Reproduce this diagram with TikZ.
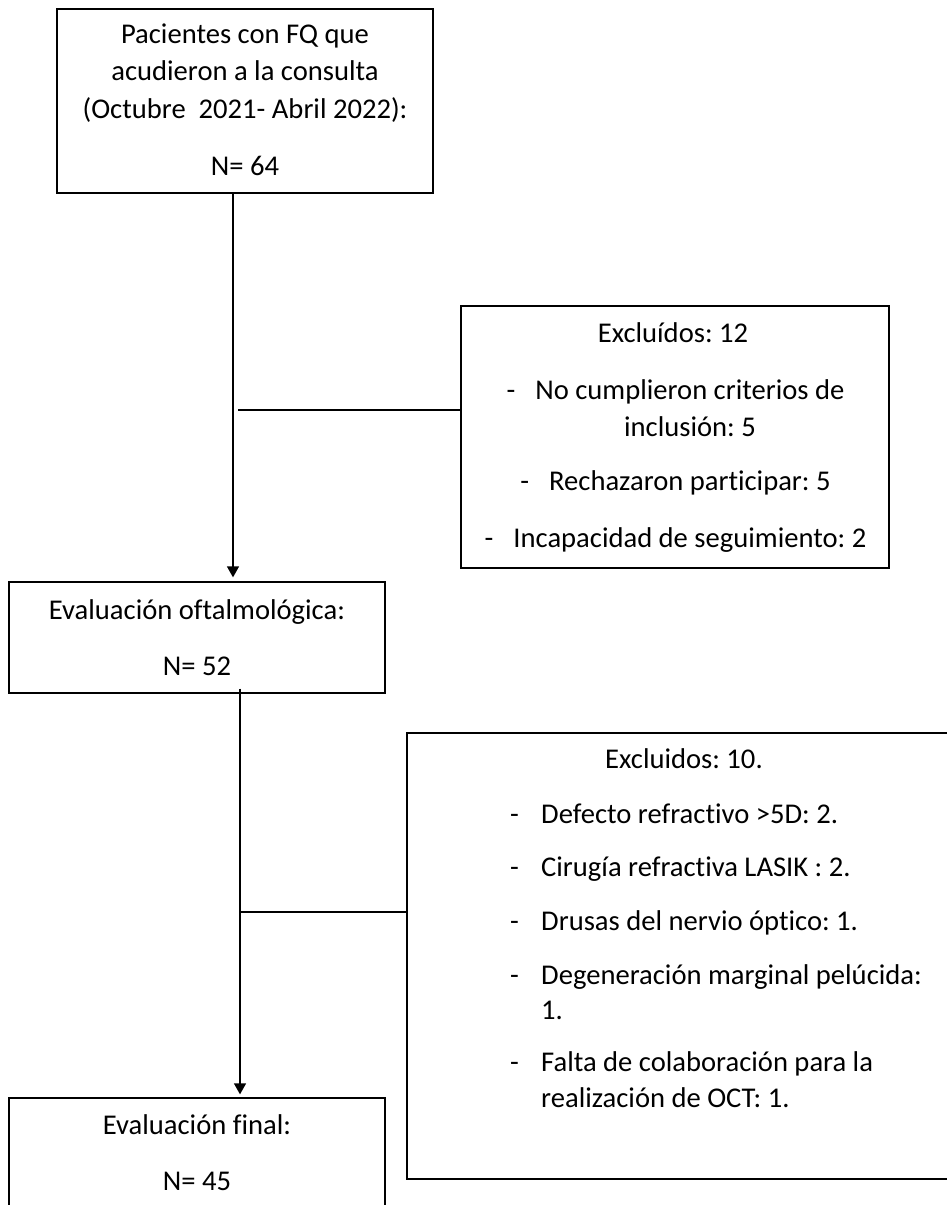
\documentclass[tikz,border=0pt]{standalone}
\usepackage{fontspec}
\setmainfont{Carlito}[Ligatures=NoCommon]
\frenchspacing
\usetikzlibrary{arrows.meta}
\begin{document}
\begin{tikzpicture}[x=1pt,y=-1pt,
  box/.style={draw=black, line width=1.3pt, rectangle, inner sep=0pt},
  conn/.style={draw=black, line width=1.3pt},
  arr/.style={conn, -{Triangle[width=12pt,length=11pt]}},
  txt/.style={inner sep=0pt, anchor=base, font=\fontsize{28.6}{37.5}\selectfont\frenchspacing},
  txtl/.style={inner sep=0pt, anchor=base west, font=\fontsize{28.6}{37.5}\selectfont\frenchspacing}]
\clip (0,0) rectangle (947,1205);
\useasboundingbox (0,0) rectangle (947,1205);
% boxes
\node[box, minimum width=376pt, minimum height=184pt] (b1) at (245,101) {};
\node[box, minimum width=376pt, minimum height=111pt] (b2) at (197,637.5) {};
\node[box, minimum width=376pt, minimum height=122pt] (b3) at (197,1159) {};
\node[box, minimum width=428pt, minimum height=262pt] (e1) at (675,437) {};
\node[box, minimum width=553pt, minimum height=446pt] (e2) at (683.5,956) {};
% texts box 1
\node[txt] (t1a) at (245,43) {Pacientes con FQ que};
\node[txt] (t1b) at (245,80.5) {acudieron a la consulta};
\node[txt] (t1c) at (245,118) {(Octubre~ 2021- Abril 2022):};
\node[txt] (t1d) at (245,175) {N= 64};
% texts exclusion 1
\node[txt] (u1a) at (673,342.5) {Excluídos: 12};
\node[txt] (u1b) at (675.5,399) {-\hspace{20pt}No cumplieron criterios de};
\node[txt] (u1c) at (690,436.5) {inclusión: 5};
\node[txt] (u1d) at (675.5,490.5) {-\hspace{20pt}Rechazaron participar: 5};
\node[txt] (u1e) at (675.5,547) {-\hspace{20pt}Incapacidad de seguimiento: 2};
% texts box 2
\node[txt] (t2a) at (197,619) {Evaluación oftalmológica:};
\node[txt] (t2b) at (197,675) {N= 52};
% texts exclusion 2
\node[txtl] (u2a) at (605,768) {Excluidos: 10.};
\node[txtl] (d2b) at (510,823) {-};
\node[txtl] (u2b) at (541,823) {Defecto refractivo >5D: 2.};
\node[txtl] (d2c) at (510,876.5) {-};
\node[txtl] (u2c) at (541,876.5) {Cirugía refractiva LASIK : 2.};
\node[txtl] (d2d) at (510,930) {-};
\node[txtl] (u2d) at (541,930) {Drusas del nervio óptico: 1.};
\node[txtl] (d2e) at (510,984) {-};
\node[txtl] (u2e) at (541,984) {Degeneración marginal pelúcida:};
\node[txtl] (u2f) at (541,1019.5) {1.};
\node[txtl] (d2g) at (510,1071.5) {-};
\node[txtl] (u2g) at (541,1071.5) {Falta de colaboración para la};
\node[txtl] (u2h) at (541,1107) {realización de OCT: 1.};
% texts box 3
\node[txt] (t3a) at (197,1134) {Evaluación final:};
\node[txt] (t3b) at (197,1190) {N= 45};
% connectors
\coordinate (x1) at (233,0);
\coordinate (x2) at (240,0);
\coordinate (j1) at (238,410);
\coordinate (j2) at (240,912);
\draw[arr, shorten >=4pt] (b1.south -| x1) -- (b2.north -| x1);
\draw[arr, shorten <=-5pt, shorten >=3pt] (b2.south -| x2) -- (b3.north -| x2);
\draw[conn] (j1) -- (j1 -| e1.west);
\draw[conn] (j2) -- (j2 -| e2.west);
\end{tikzpicture}
\end{document}
